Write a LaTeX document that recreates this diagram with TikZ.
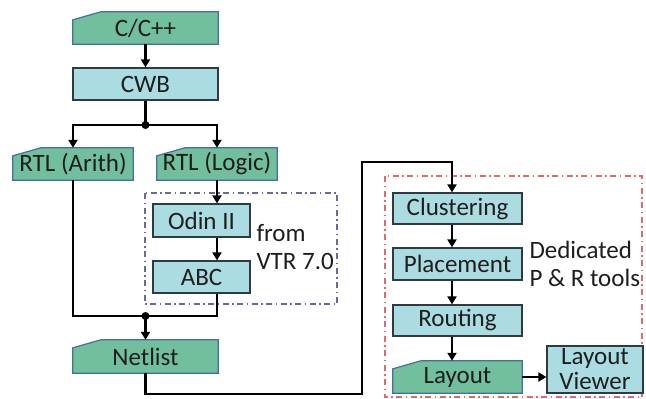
\documentclass[tikz,border=0pt]{standalone}
\usepackage{fontspec}
\setmainfont{Carlito}
\usetikzlibrary{arrows.meta,backgrounds,calc}
\definecolor{gfill}{HTML}{72BF9E}
\definecolor{gdraw}{HTML}{41719C}
\definecolor{cfill}{HTML}{ABDCE1}
\definecolor{cdraw}{HTML}{2E3B40}
\definecolor{txt}{HTML}{1E1E1E}
\definecolor{bdash}{HTML}{6A6A9A}
\definecolor{rdash}{HTML}{E06A6A}
\tikzset{
  lbl/.style={font=\fontsize{25}{28}\selectfont, text=txt},
  cbox/.style={lbl, draw=cdraw, fill=cfill, line width=1.2pt, inner sep=0pt, minimum height=32pt},
  gbox/.style={lbl, draw=none, inner sep=0pt, minimum height=32pt},
  gshape/.style={draw=gdraw, fill=gfill, line width=1.2pt},
  conn/.style={line width=2.5pt, black, -{Triangle[length=8pt,width=9pt]}},
  wire/.style={line width=2.5pt, black},
  jdot/.style={circle, fill=black, inner sep=0pt, minimum size=8pt},
  dashdot/.style={line width=1.1pt, dash pattern=on 6pt off 3.5pt on 1.5pt off 3.5pt}
}
\newcommand{\cutshape}[1]{\draw[gshape] (#1.south west) -- ($(#1.north west)+(0,8)$) -- ($(#1.north west)+(28,0)$) -- (#1.north east) -- (#1.south east) -- cycle;}
\begin{document}
\begin{tikzpicture}[x=1pt,y=-1pt]
\useasboundingbox (0,0) rectangle (646,399);
% dashed groups
\draw[bdash, dashdot] (145,193) rectangle (337,304);
\draw[rdash, dashdot] (385,176) rectangle (642,397);
% left column
\node[gbox, minimum width=145pt] (cpp) at (145.5,28) {C/C++};
\node[cbox, minimum width=145pt] (cwb) at (145.5,84) {CWB};
\node[jdot] (d1) at (145.5,125) {};
\node[gbox, minimum width=120pt] (arith) at (73,164) {RTL (Arith)};
\node[gbox, minimum width=120pt] (logic) at (217,164) {RTL (Logic)};
\node[cbox, minimum width=97pt, minimum height=33pt] (odin) at (201.5,220.5) {Odin II};
\node[cbox, minimum width=97pt] (abc) at (201.5,277) {ABC};
\node[lbl, align=left, anchor=west] (vtr) at (253,247) {from\\VTR 7.0};
\node[jdot] (d2) at (145.5,316) {};
\node[gbox, minimum width=145pt, minimum height=33pt] (net) at (145.5,356.5) {Netlist};
% right column
\node[cbox, minimum width=129pt, minimum height=31pt] (clu) at (457.5,208.5) {Clustering};
\node[cbox, minimum width=129pt] (pla) at (457.5,264) {Placement};
\node[cbox, minimum width=129pt, minimum height=31pt] (rou) at (457.5,320.5) {Routing};
\node[gbox, minimum width=129pt] (lay) at (457.5,377) {Layout};
\node[cbox, minimum width=96pt, minimum height=47pt, align=center, font=\fontsize{25}{25}\selectfont] (view) at (595,369.5) {Layout\\Viewer};
\node[lbl, align=left, anchor=west] (ded) at (526,264) {Dedicated\\P \& R tools};
\coordinate (c1) at (145.5,394);
\coordinate (c2) at (362,394);
\coordinate (c3) at (362,162);
\coordinate (c4) at (452,162);
\begin{scope}[on background layer]
\cutshape{cpp}
\cutshape{arith}
\cutshape{logic}
\cutshape{net}
\cutshape{lay}
\end{scope}
% connectors
\draw[conn] (cpp.south) -- (cwb.north);
\draw[wire] (cwb.south) -- (d1.center);
\draw[conn] (d1.center) -| (arith.north);
\draw[conn] (d1.center) -| (logic.north);
\draw[conn] (logic.south) -- (logic.south |- odin.north);
\draw[conn] (logic.south |- odin.south) -- (logic.south |- abc.north);
\draw[wire] (logic.south |- abc.south) |- (d2.center);
\draw[wire] (arith.south) |- (d2.center);
\draw[conn] (d2.center) -- (net.north);
\draw[conn] (net.south) -- (c1) -- (c2) -- (c3) -- (c4) -- (c4 |- clu.north);
\draw[conn] (clu.south -| c4) -- (pla.north -| c4);
\draw[conn] (pla.south -| c4) -- (rou.north -| c4);
\draw[conn] (rou.south -| c4) -- (lay.north -| c4);
\draw[conn] (lay.east) -- (view.west |- lay.east);
\end{tikzpicture}
\end{document}
